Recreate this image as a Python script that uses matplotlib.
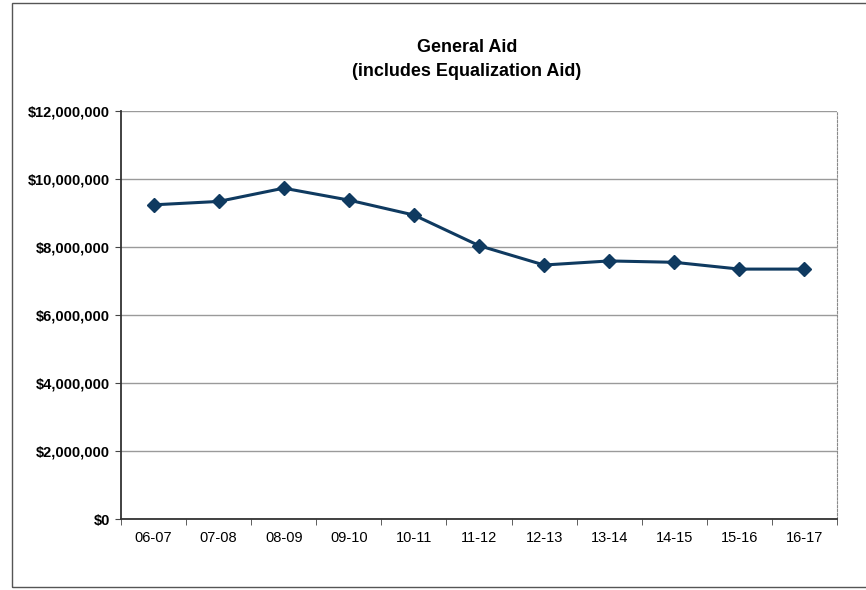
import numpy as np
import matplotlib.pyplot as plt
from matplotlib.ticker import FuncFormatter, FixedLocator
from matplotlib.patches import Rectangle

# school years and general aid amounts (dollars)
years = ["06-07", "07-08", "08-09", "09-10", "10-11", "11-12",
         "12-13", "13-14", "14-15", "15-16", "16-17"]
general_aid = [9240000, 9340000, 9730000, 9380000, 8940000, 8040000,
               7470000, 7590000, 7550000, 7350000, 7350000]
y_ticks = [0, 2000000, 4000000, 6000000, 8000000, 10000000, 12000000]

W, H = 866, 590
fig = plt.figure(figsize=(W / 100, H / 100), dpi=100)

# outer chart frame
fig.patches.append(Rectangle((12 / W, 3 / H), 1.2, (587 - 3) / H,
                             transform=fig.transFigure, fill=False,
                             edgecolor="#555555", linewidth=1.0))

ax = fig.add_axes([121 / W, 1 - 519 / H, (837 - 121) / W, (519 - 111) / H])

x = np.arange(len(years))
ax.plot(x, general_aid, color="#0f3a60", linewidth=2.2, marker="D",
        markersize=7, markerfacecolor="#0f3a60", markeredgecolor="#0f3a60")

ax.set_xlim(-0.5, len(years) - 0.5)
ax.set_ylim(0, 12000000)
ax.set_yticks(y_ticks)
ax.yaxis.set_major_formatter(FuncFormatter(lambda v, p: "${:,.0f}".format(v)))
ax.grid(axis="y", color="#9a9a9a", linewidth=1.0)
ax.set_axisbelow(True)

ax.set_xticks(x)
ax.set_xticklabels(years, family=["Liberation Sans Narrow", "Liberation Sans"],
                   fontsize=10.5)
ax.xaxis.set_minor_locator(FixedLocator(np.arange(-0.5, len(years), 1.0)))
ax.tick_params(axis="x", which="major", length=0, pad=9)
ax.tick_params(axis="x", which="minor", length=4, color="#444444")
ax.tick_params(axis="y", length=4, color="#444444", pad=4)
for lbl in ax.get_yticklabels():
    lbl.set_family("Liberation Sans")
    lbl.set_fontweight("bold")
    lbl.set_fontsize(10.5)

for side in ["left", "bottom"]:
    ax.spines[side].set_color("#333333")
    ax.spines[side].set_linewidth(1.3)
ax.spines["top"].set_visible(False)
ax.spines["right"].set_color("#8a8a8a")
ax.spines["right"].set_linestyle((0, (2, 1.5)))

fig.text(467 / W, 1 - 48 / H, "General Aid", ha="center", va="center",
         family="Liberation Sans", fontweight="bold", fontsize=13)
fig.text(467 / W, 1 - 72 / H, "(includes Equalization Aid)", ha="center",
         va="center", family="Liberation Sans", fontweight="bold", fontsize=13)

fig.savefig("out.png", dpi=100)
